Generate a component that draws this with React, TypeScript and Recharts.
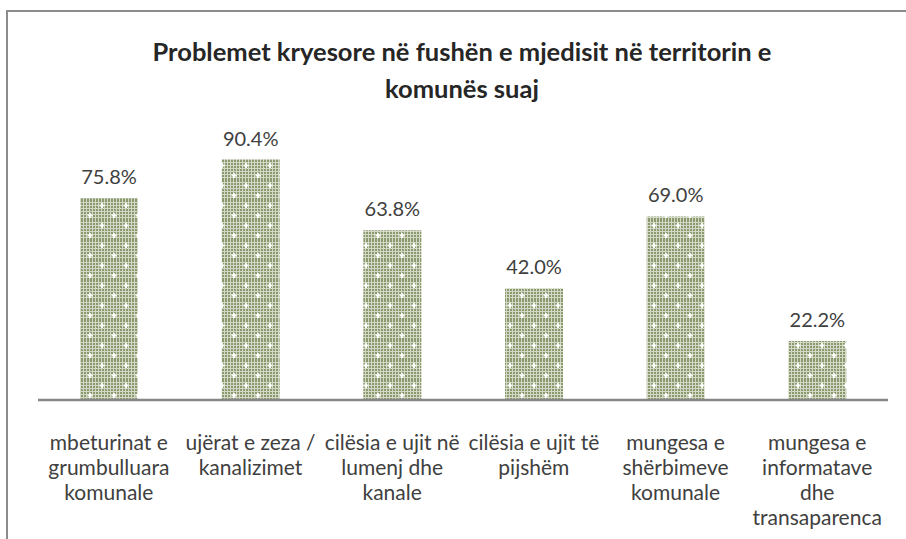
import React from "react";
import { BarChart, Bar, XAxis, YAxis, LabelList } from "recharts";

const categories = [
  "mbeturinat e\ngrumbulluara\nkomunale",
  "ujërat e zeza /\nkanalizimet",
  "cilësia e ujit në\nlumenj dhe\nkanale",
  "cilësia e ujit të\npijshëm",
  "mungesa e\nshërbimeve\nkomunale",
  "mungesa e\ninformatave\ndhe\ntransaparenca",
];
const values = [75.8, 90.4, 63.8, 42.0, 69.0, 22.2];
const titleLines = [
  "Problemet kryesore në fushën e mjedisit në territorin e",
  "komunës suaj",
];

const data = categories.map((c, i) => ({ name: c, value: values[i] }));

const FONT = "Lato, 'Open Sans', sans-serif";

const Tick = (props: any) => {
  const { x, y, payload } = props;
  const lines = String(payload.value).split("\n");
  return (
    <g transform={`translate(${x},${y})`}>
      {lines.map((l, i) => (
        <text
          key={i}
          x={0}
          y={42 + i * 25}
          textAnchor="middle"
          fill="#404040"
          fontSize={21}
          fontFamily={FONT}
        >
          {l}
        </text>
      ))}
    </g>
  );
};

export default function App() {
  return (
    <div
      style={{
        position: "absolute",
        left: 0,
        top: 0,
        width: 906,
        height: 539,
        background: "#fff",
        overflow: "hidden",
      }}
    >
      <div
        style={{
          position: "absolute",
          left: 6,
          top: 10,
          width: 920,
          height: 560,
          borderLeft: "2px solid #8c8c8c",
          borderTop: "2px solid #8c8c8c",
        }}
      />
      <div
        style={{
          position: "absolute",
          left: 0,
          top: 33,
          width: 924,
          textAlign: "center",
          fontFamily: FONT,
          fontWeight: 700,
          fontSize: 25.5,
          lineHeight: "37px",
          color: "#262626",
        }}
      >
        {titleLines.map((t, i) => (
          <div key={i}>{t}</div>
        ))}
      </div>
      <div style={{ position: "absolute", left: 0, top: 0 }}>
        <BarChart
          width={906}
          height={539}
          data={data}
          margin={{ top: 134, right: 18, bottom: 0, left: 38 }}
          barSize={58}
        >
          <defs>
            <pattern id="grid3" width="3" height="3" patternUnits="userSpaceOnUse">
              <rect width="3" height="3" fill="#d3d9c6" />
              <rect x="0" y="0" width="2" height="2" fill="#8a9a6e" />
            </pattern>
            <pattern id="sparkle" width="24" height="20" patternUnits="userSpaceOnUse">
              <rect width="24" height="20" fill="url(#grid3)" />
              <rect x="5" y="3" width="2" height="5" fill="#ffffff" opacity="0.9" />
              <rect x="3.5" y="4.5" width="5" height="2" fill="#ffffff" opacity="0.9" />
              <rect x="17" y="13" width="2" height="5" fill="#ffffff" opacity="0.9" />
              <rect x="15.5" y="14.5" width="5" height="2" fill="#ffffff" opacity="0.9" />
            </pattern>
          </defs>
          <XAxis
            dataKey="name"
            interval={0}
            height={139}
            tickLine={false}
            axisLine={{ stroke: "#868686", strokeWidth: 2.5 }}
            tick={<Tick />}
          />
          <YAxis hide domain={[0, 100]} />
          <Bar dataKey="value" fill="url(#sparkle)" isAnimationActive={false}>
            <LabelList
              dataKey="value"
              position="top"
              offset={14}
              formatter={(v: any) => `${Number(v).toFixed(1)}%`}
              style={{ fontFamily: FONT, fontSize: 20, fill: "#404040" }}
            />
          </Bar>
        </BarChart>
      </div>
    </div>
  );
}
